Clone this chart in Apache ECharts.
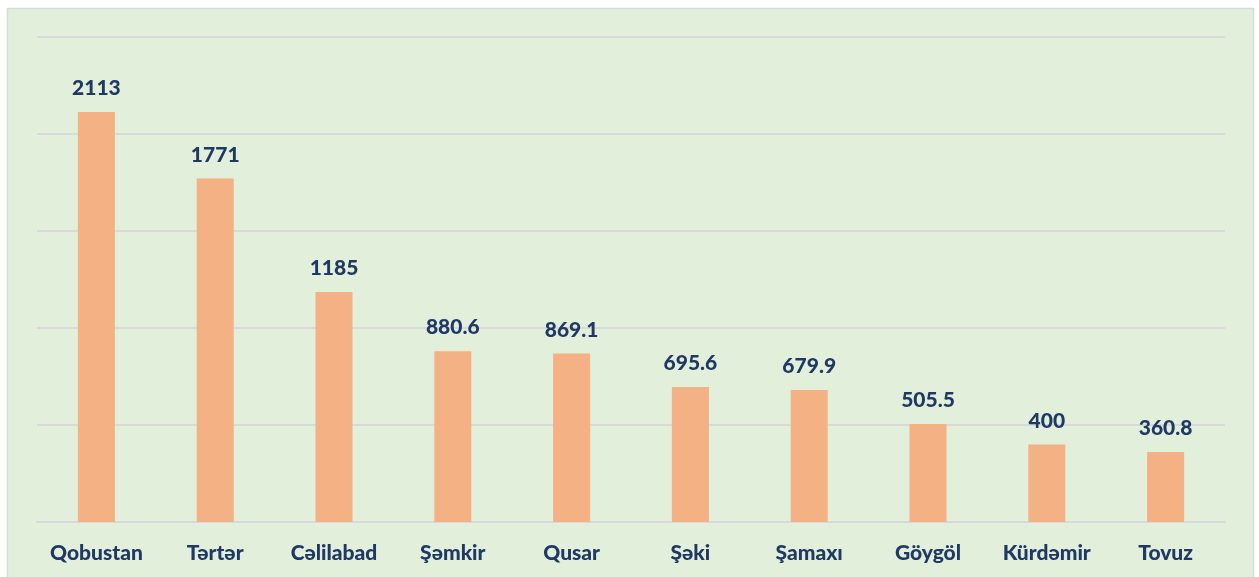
<!DOCTYPE html>
<html>
<head>
<meta charset="utf-8">
<script src="https://cdn.jsdelivr.net/npm/echarts@6/dist/echarts.min.js"></script>
<style>
  html, body { margin: 0; padding: 0; background: #ffffff; }
  #main { width: 1259px; height: 577px; }
</style>
</head>
<body>
<div id="main"></div>
<script>
// rayonlar və dəyərlər
var categories = ['Qobustan', 'Tərtər', 'Cəlilabad', 'Şəmkir', 'Qusar', 'Şəki', 'Şamaxı', 'Göygöl', 'Kürdəmir', 'Tovuz'];
var values = [2113, 1771, 1185, 880.6, 869.1, 695.6, 679.9, 505.5, 400, 360.8];

var textColor = '#1f3864';
var chart = echarts.init(document.getElementById('main'));

var option = {
    backgroundColor: '#ffffff',
    animation: false,
    graphic: [{
        type: 'rect',
        z: -10,
        shape: { x: 7.5, y: 8.5, width: 1246, height: 600 },
        style: { fill: '#e2efda', stroke: '#d9d9d9', lineWidth: 1.5 }
    }],
    grid: {
        left: 37,
        right: 34,
        top: 37,
        bottom: 55
    },
    xAxis: {
        type: 'category',
        data: categories,
        axisLine: { lineStyle: { color: '#d9d9d9', width: 2 } },
        axisTick: { show: false },
        axisLabel: {
            interval: 0,
            margin: 21,
            fontFamily: 'Lato',
            fontWeight: 900,
            fontSize: 21,
            color: textColor
        }
    },
    yAxis: {
        type: 'value',
        min: 0,
        max: 2500,
        interval: 500,
        axisLabel: { show: false },
        axisLine: { show: false },
        axisTick: { show: false },
        splitLine: { lineStyle: { color: '#d9d9d9', width: 2 } }
    },
    series: [{
        type: 'bar',
        data: values,
        barWidth: 37,
        itemStyle: { color: '#f4b183' },
        label: {
            show: true,
            position: 'top',
            distance: 13,
            fontFamily: 'Lato',
            fontWeight: 900,
            fontSize: 21,
            color: textColor
        }
    }]
};
chart.setOption(option);
</script>
</body>
</html>
